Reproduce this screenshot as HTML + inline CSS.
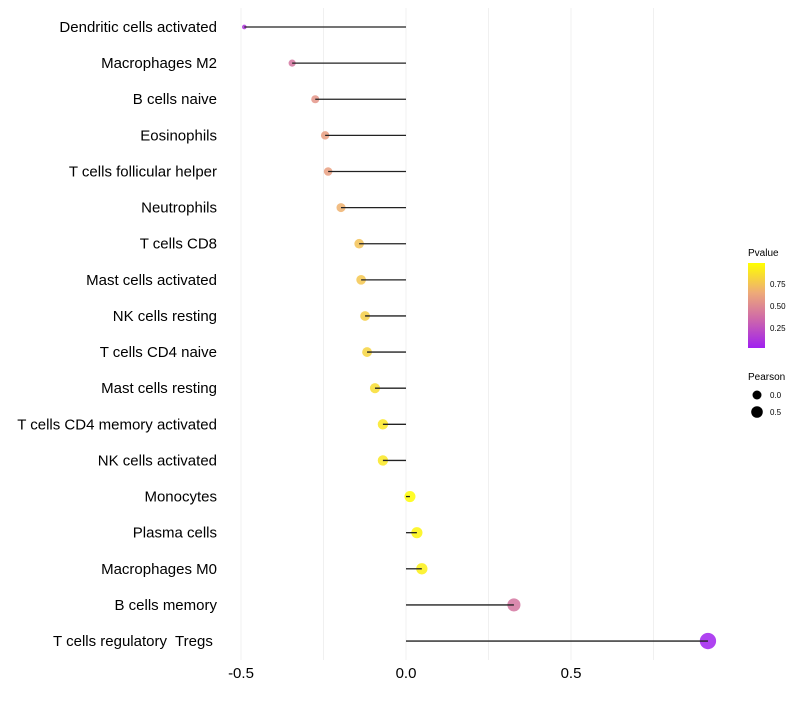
<!DOCTYPE html>
<html><head><meta charset="utf-8"><style>
body{margin:0;background:#fff;font-family:"Liberation Sans",sans-serif;}
svg text{font-family:"Liberation Sans",sans-serif;white-space:pre;}
</style></head><body>
<svg id="chart" width="800" height="700">
<defs><linearGradient id="pg" x1="0" y1="1" x2="0" y2="0">
<stop offset="0" stop-color="#a020f0"/><stop offset="0.35" stop-color="#cf6aa8"/><stop offset="0.65" stop-color="#eeaa78"/><stop offset="1" stop-color="#ffff00"/></linearGradient></defs>
<g id="grid"></g><g id="marks"></g><g id="labels"></g>
<g>
<text x="748" y="256" font-size="10">Pvalue</text>
<rect x="748" y="263" width="17" height="85" fill="url(#pg)"/>
<text x="770" y="287" font-size="8">0.75</text>
<text x="770" y="309" font-size="8">0.50</text>
<text x="770" y="331" font-size="8">0.25</text>
<text x="748" y="380" font-size="10">Pearson</text>
<circle cx="757" cy="395" r="4.5" fill="#000"/>
<text x="770" y="398" font-size="8">0.0</text>
<circle cx="757" cy="412" r="5.8" fill="#000"/>
<text x="770" y="415" font-size="8">0.5</text>
</g>
</svg>
<script>
const categories=["Dendritic cells activated","Macrophages M2","B cells naive","Eosinophils","T cells follicular helper","Neutrophils","T cells CD8","Mast cells activated","NK cells resting","T cells CD4 naive","Mast cells resting","T cells CD4 memory activated","NK cells activated","Monocytes","Plasma cells","Macrophages M0","B cells memory","T cells regulatory  Tregs "];
const pearson=[-0.49,-0.345,-0.275,-0.245,-0.236,-0.197,-0.142,-0.136,-0.124,-0.118,-0.094,-0.07,-0.07,0.012,0.033,0.048,0.327,0.915];
const pvalue=[0.1,0.4,0.55,0.6,0.6,0.68,0.75,0.77,0.8,0.82,0.86,0.9,0.9,0.99,0.96,0.94,0.4,0.01];
const xTicks=[-0.5,0,0.5];
const xTickLabels=["-0.5","0.0","0.5"];
const xMinor=[-0.25,0.25,0.75];
const NS="http://www.w3.org/2000/svg";
const X=v=>406+v*330;
const Y=i=>27+i*36.12;
const R=v=>Math.sqrt(Math.max(2.25,v<0?30+50*v:30+40*v));
function col(p){const st=[[0,[160,32,240]],[0.35,[207,106,168]],[0.65,[238,170,120]],[1,[255,255,0]]];
for(let k=1;k<st.length;k++){if(p<=st[k][0]){const a=st[k-1],b=st[k],t=(p-a[0])/(b[0]-a[0]);return 'rgb('+a[1].map((c,j)=>Math.round(c+(b[1][j]-c)*t)).join(',')+')';}}return 'rgb(255,255,0)';}
function mk(t,a,p){const e=document.createElementNS(NS,t);for(const k in a)e.setAttribute(k,a[k]);p.appendChild(e);return e;}
const g=document.getElementById('grid'),m=document.getElementById('marks'),l=document.getElementById('labels');
xTicks.concat(xMinor).forEach(v=>{const e=mk('line',{x1:X(v),x2:X(v),y1:8,y2:660,stroke:'#f0f0f0','stroke-width':1},g);

});
xTicks.forEach((v,i)=>{const e=mk('text',{x:X(v),y:678,'font-size':15,'text-anchor':'middle'},l);e.textContent=xTickLabels[i];

});
categories.forEach((c,i)=>{const y=Y(i);
const t=mk('text',{x:217,y:y+5,'font-size':15,'text-anchor':'end'},l);t.textContent=c;


const ci=mk('circle',{cx:X(pearson[i]),cy:y,r:R(pearson[i]),fill:col(pvalue[i]),'fill-opacity':0.85},m);


const ln=mk('line',{x1:X(0),x2:X(pearson[i]),y1:y,y2:y,stroke:'#222','stroke-width':1.3},m);

});
</script>
</body></html>
